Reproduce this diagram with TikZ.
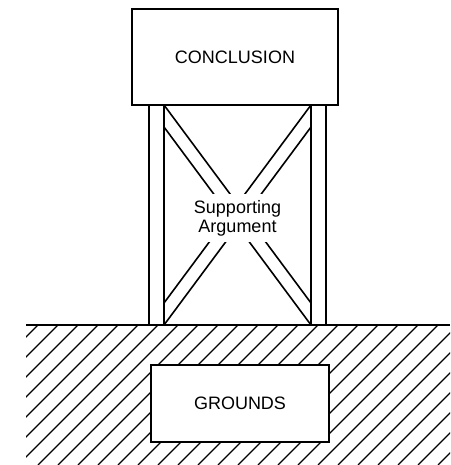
\documentclass[tikz,border=0pt]{standalone}
\usepackage{fontspec}
\setmainfont{Liberation Sans}
\begin{document}
\begin{tikzpicture}[x=1pt,y=-1pt,
  box/.style={draw,line width=2pt,fill=white,inner sep=0pt,
    font=\fontsize{18}{19}\selectfont},
  leg/.style={line width=1.8pt},
  brace/.style={line width=1.6pt},
  hatch/.style={line width=1.2pt},
  groundline/.style={line width=2.6pt}]
\useasboundingbox (0,0) rectangle (450,465);
\fill[white] (0,0) rectangle (450,465);
% hatching of the ground
\begin{scope}
  \clip (26,325) rectangle (450,465);
  \foreach \c in {343,363,...,923}
    \draw[hatch] ({\c-465},465) -- ({\c-325},325);
\end{scope}
% coordinates of the frame
\coordinate (gl) at (26,325);
\coordinate (gr) at (450,325);
% legs
\draw[leg] (149,105) -- (149,325);
\draw[leg] (164,105) -- (164,325);
\draw[leg] (311,105) -- (311,325);
\draw[leg] (326,105) -- (326,325);
% braces (double lines), cut out around the text
\foreach \ya/\yb in {105/193,242/325}{
  \begin{scope}
    \clip (164,\ya) rectangle (311,\yb);
    \draw[brace] (164,105) -- (311,303);
    \draw[brace] (164,127) -- (311,325);
    \draw[brace] (311,105) -- (164,303);
    \draw[brace] (311,127) -- (164,325);
  \end{scope}
}
% ground line
\draw[groundline] (gl) -- (gr);
% boxes
\node[box,minimum width=206pt,minimum height=96pt] (conclusion) at (235,57) {CONCLUSION};
\node[box,minimum width=178pt,minimum height=77pt] (grounds) at (240,403.5) {GROUNDS};
\node[align=center,inner sep=0pt,font=\fontsize{18}{19}\selectfont] (support) at (237.5,218) {Supporting\\Argument};
\end{tikzpicture}
\end{document}
